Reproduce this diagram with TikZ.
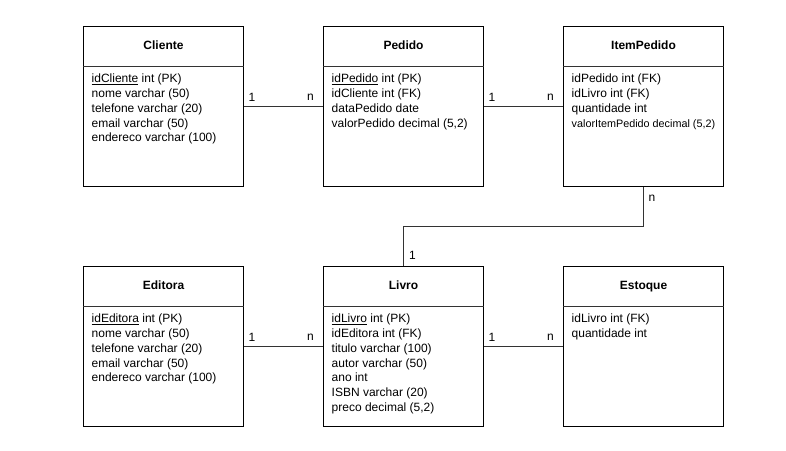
\documentclass[tikz,border=0pt]{standalone}
\usepackage{fontspec}
\setmainfont{Liberation Sans}
\usetikzlibrary{calc}
\begin{document}
\begin{tikzpicture}[x=1pt,y=-1pt,
  tablebox/.style={draw=black,line width=1pt,fill=white,anchor=north west,
    minimum width=160pt,minimum height=160pt,inner sep=0pt},
  headsep/.style={draw=black!80,line width=1pt},
  tabletitle/.style={font=\fontsize{12}{14}\selectfont\bfseries,inner sep=0pt,
    text height=8.6pt,text depth=2.5pt},
  attrs/.style={font=\fontsize{12}{14.75}\selectfont,align=left,anchor=north west,inner sep=0pt},
  link/.style={draw=black!80,line width=1pt},
  card/.style={font=\fontsize{12}{14}\selectfont,inner sep=0pt}]
\useasboundingbox (0,0) rectangle (786,450);

% table: name, top-left corner, title, attribute lines
\newcommand\erbox[4]{%
  \node[tablebox] (#1) at (#2) {};
  \draw[headsep] ($(#1.north west)+(0,40)$) -- ($(#1.north east)+(0,40)$);
  \node[tabletitle] (#1-title) at ($(#1.north)+(0,20)$) {#3};
  \node[attrs] (#1-attrs) at ($(#1.north west)+(8.5,48)$) {#4};
}

\erbox{cliente}{83,26}{Cliente}{\underline{idCliente} int (PK)\\nome varchar (50)\\telefone varchar (20)\\email varchar (50)\\endereco varchar (100)}
\erbox{pedido}{323,26}{Pedido}{\underline{idPedido} int (PK)\\idCliente int (FK)\\dataPedido date\\valorPedido decimal (5,2)}
\erbox{item}{563,26}{ItemPedido}{idPedido int (FK)\\idLivro int (FK)\\quantidade int\\{\fontsize{10.8}{14.75}\selectfont valorItemPedido decimal (5,2)}}
\erbox{editora}{83,266}{Editora}{\underline{idEditora} int (PK)\\nome varchar (50)\\telefone varchar (20)\\email varchar (50)\\endereco varchar (100)}
\erbox{livro}{323,266}{Livro}{\underline{idLivro} int (PK)\\idEditora int (FK)\\titulo varchar (100)\\autor varchar (50)\\ano int\\ISBN varchar (20)\\preco decimal (5,2)}
\erbox{estoque}{563,266}{Estoque}{idLivro int (FK)\\quantidade int}

% relationships
\draw[link] (cliente.east) -- (pedido.west);
\node[card] (c1) at ($(cliente.east)+(8,-9.5)$) {1};
\node[card] (cn) at ($(pedido.west)+(-12.5,-9.5)$) {n};

\draw[link] (pedido.east) -- (item.west);
\node[card] (p1) at ($(pedido.east)+(8,-9.5)$) {1};
\node[card] (pn) at ($(item.west)+(-12.5,-9.5)$) {n};

\draw[link] (editora.east) -- (livro.west);
\node[card] (e1) at ($(editora.east)+(8,-9.5)$) {1};
\node[card] (en) at ($(livro.west)+(-12.5,-9.5)$) {n};

\draw[link] (livro.east) -- (estoque.west);
\node[card] (l1) at ($(livro.east)+(8,-9.5)$) {1};
\node[card] (ln) at ($(estoque.west)+(-12.5,-9.5)$) {n};

\coordinate (elbow) at ($(item.south)!0.5!(item.south|-livro.north)$);
\draw[link] (item.south) -- (elbow) -| (livro.north);
\node[card] (in) at ($(item.south)+(8.5,11)$) {n};
\node[card] (ln1) at ($(livro.north)+(9,-11)$) {1};
\end{tikzpicture}
\end{document}
